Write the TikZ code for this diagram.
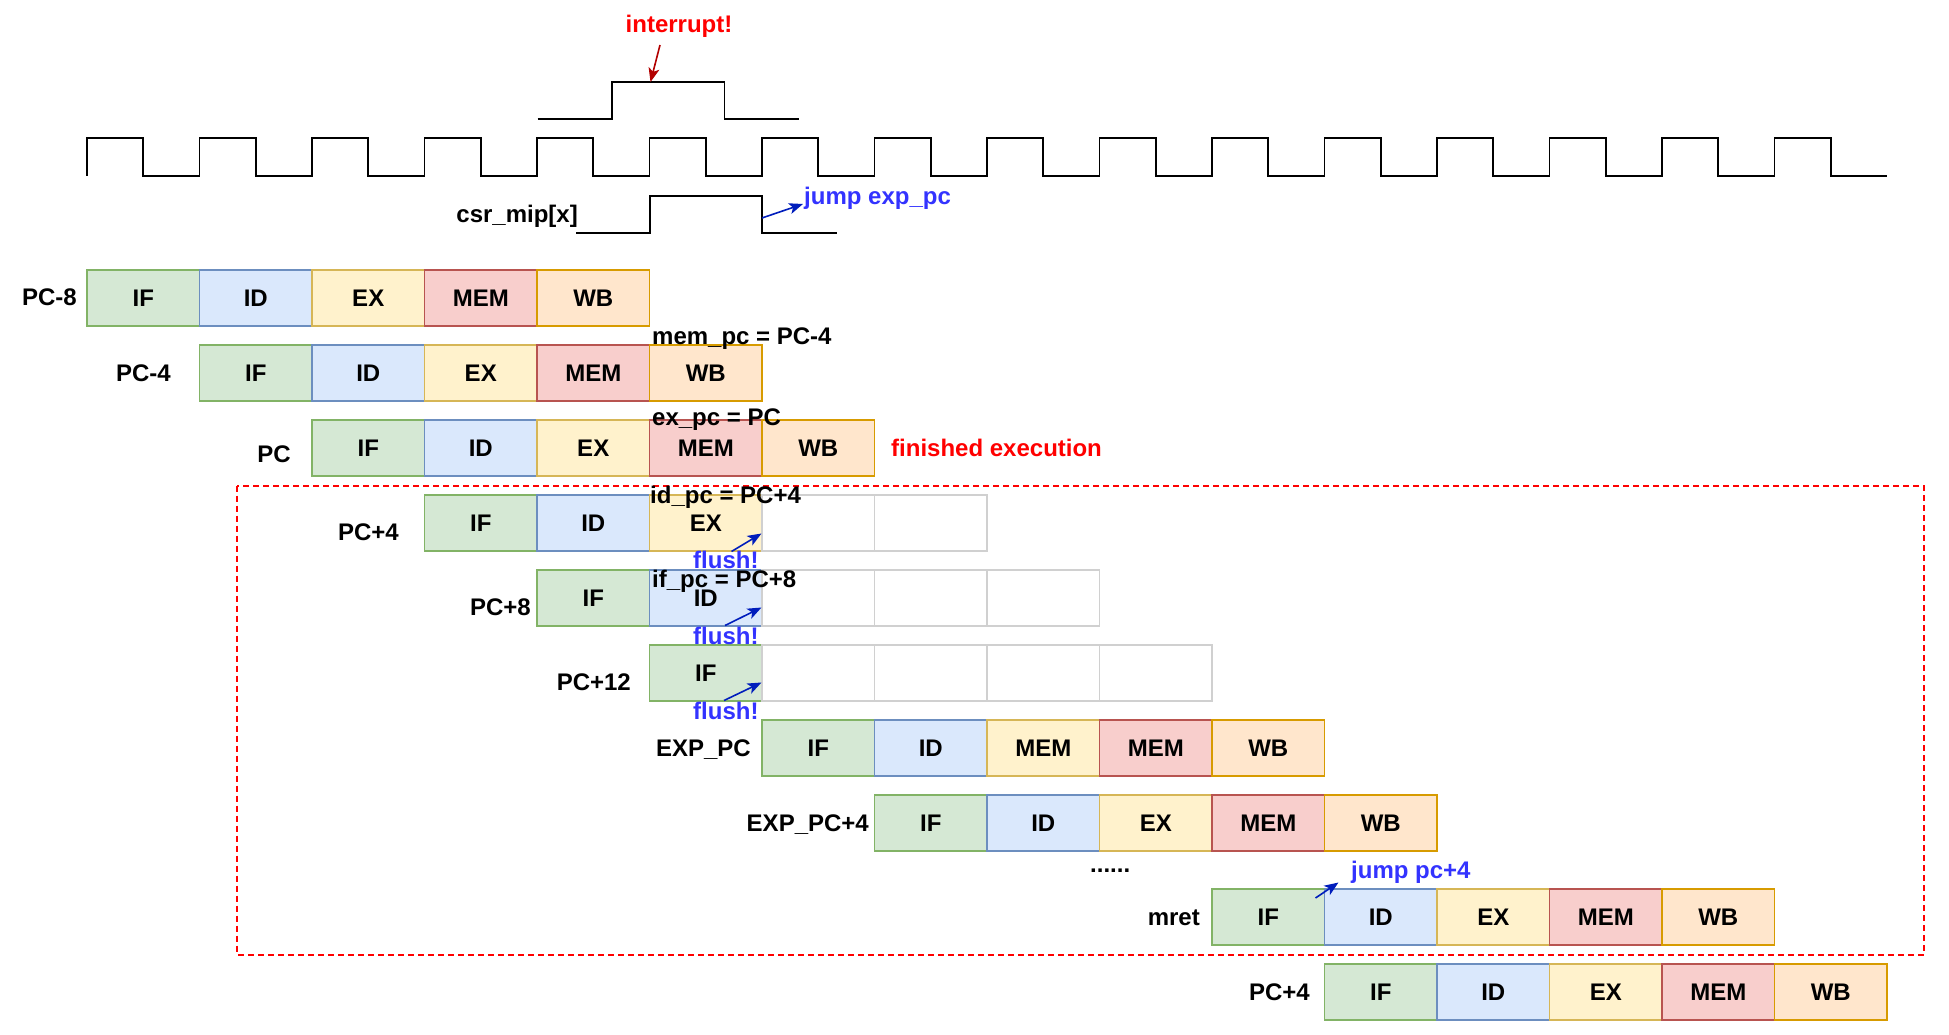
\documentclass[tikz,border=0pt]{standalone}
\usepackage{fontspec}
\setmainfont{Liberation Sans}
\usetikzlibrary{arrows.meta}
\definecolor{ifF}{HTML}{D5E8D4}\definecolor{ifD}{HTML}{82B366}
\definecolor{idF}{HTML}{DAE8FC}\definecolor{idD}{HTML}{6C8EBF}
\definecolor{exF}{HTML}{FFF2CC}\definecolor{exD}{HTML}{D6B656}
\definecolor{memF}{HTML}{F8CECC}\definecolor{memD}{HTML}{B85450}
\definecolor{wbF}{HTML}{FFE6CC}\definecolor{wbD}{HTML}{D79B00}
\definecolor{emptyD}{HTML}{D0D0D0}
\definecolor{txtred}{HTML}{FF0000}
\definecolor{arrred}{HTML}{B20000}
\definecolor{txtblue}{HTML}{3333FF}
\definecolor{arrblue}{HTML}{001DBC}
\newcommand\stagerow[4]{%
  \foreach \s/\t [count=\i] in {#4} {
    \node[\s] (#1-\i) at ({87+112.5*(#2+\i-1)+56.25},{#3+28}) {\t};
  }}
\begin{document}
\begin{tikzpicture}[x=1pt,y=-1pt,
  every node/.style={font=\fontsize{24}{28}\selectfont\bfseries, inner sep=0pt},
  stg/.style={draw, line width=1.5pt, minimum width=112.5pt, minimum height=56pt, inner sep=0pt},
  sif/.style={stg, fill=ifF, draw=ifD},
  sid/.style={stg, fill=idF, draw=idD},
  sex/.style={stg, fill=exF, draw=exD},
  smem/.style={stg, fill=memF, draw=memD},
  swb/.style={stg, fill=wbF, draw=wbD},
  sempty/.style={stg, fill=white, draw=emptyD},
  rowlabel/.style={anchor=base east},
  note/.style={anchor=base west},
  wave/.style={line width=1.6pt, line join=miter},
  redarrow/.style={draw=arrred, line width=1.6pt, -{Stealth[length=14pt,width=11pt,inset=3.5pt]}},
  bluearrow/.style={draw=arrblue, line width=1.6pt, -{Stealth[length=14pt,width=11pt,inset=3.5pt]}},
  bluetext/.style={text=txtblue, anchor=base west},
]
\path[use as bounding box] (0,0) rectangle (1949,1035);

% clock
\draw[wave] (87,176) \foreach \i in {0,...,15} {
  -- ({87+112.5*\i},138) -- ({87+112.5*\i+56.25},138)
  -- ({87+112.5*\i+56.25},176) -- ({87+112.5*(\i+1)},176) };
% interrupt signal
\draw[wave] (537.5,119) -- (612,119) -- (612,82) -- (724.5,82) -- (724.5,119) -- (799,119);
% csr_mip signal
\draw[wave] (576,233) -- (650,233) -- (650,196) -- (762,196) -- (762,233) -- (837,233);

\node[text=txtred, anchor=base] (intr) at (679,33) {interrupt!};
\node[anchor=base east] (csr) at (578,223) {csr\_mip[x]};
\node[bluetext] (jexp) at (804,205) {jump exp\_pc};

% red dashed region
\draw[txtred, line width=2pt, dash pattern=on 6pt off 4pt] (237,485.5) rectangle (1924,954.5);

% pipeline rows
\stagerow{r1}{0}{270}{sif/IF,sid/ID,sex/EX,smem/MEM,swb/WB}
\stagerow{r2}{1}{345}{sif/IF,sid/ID,sex/EX,smem/MEM,swb/WB}
\stagerow{r3}{2}{420}{sif/IF,sid/ID,sex/EX,smem/MEM,swb/WB}
\stagerow{r4}{3}{495}{sif/IF,sid/ID,sex/EX,sempty/,sempty/}
\stagerow{r5}{4}{570}{sif/IF,sid/ID,sempty/,sempty/,sempty/}
\stagerow{r6}{5}{645}{sif/IF,sempty/,sempty/,sempty/,sempty/}
\stagerow{r7}{6}{720}{sif/IF,sid/ID,sex/MEM,smem/MEM,swb/WB}
\stagerow{r8}{7}{795}{sif/IF,sid/ID,sex/EX,smem/MEM,swb/WB}
\stagerow{r9}{10}{889}{sif/IF,sid/ID,sex/EX,smem/MEM,swb/WB}
\stagerow{r10}{11}{964}{sif/IF,sid/ID,sex/EX,smem/MEM,swb/WB}

% row labels
\node[rowlabel] (l1) at (77,305) {PC-8};
\node[rowlabel] (l2) at (171,381) {PC-4};
\node[rowlabel] (l3) at (291,462) {PC};
\node[rowlabel] (l4) at (399,540) {PC+4};
\node[rowlabel] (l5) at (531,615) {PC+8};
\node[rowlabel] (l6) at (631,690) {PC+12};
\node[rowlabel] (l7) at (751,756) {EXP\_PC};
\node[rowlabel] (l8) at (869,831) {EXP\_PC+4};
\node[rowlabel] (l9) at (1200,925) {mret};
\node[rowlabel] (l10) at (1310,1000) {PC+4};

% notes
\node[note] (n1) at (652,344) {mem\_pc = PC-4};
\node[note] (n2) at (652,425) {ex\_pc = PC};
\node[note] (n3) at (650,503) {id\_pc = PC+4};
\node[note] (n4) at (652,587) {if\_pc = PC+8};
\node[note, text=txtred] (fin) at (891,456) {finished execution};
\node[bluetext] (f1) at (693,568) {flush!};
\node[bluetext] (f2) at (693,644) {flush!};
\node[bluetext] (f3) at (693,719) {flush!};
\node[anchor=base west] (dots) at (1090,872) {......};
\node[bluetext] (jpc4) at (1351,878) {jump pc+4};

% arrows
\coordinate (intrA) at (660,45);   \coordinate (intrB) at (650.5,82);
\coordinate (jA) at (762,218);     \coordinate (jB) at (803,204);
\coordinate (fa1) at (731.5,551.5); \coordinate (fb1) at (761.5,533.5);
\coordinate (fa2) at (725,625.5);  \coordinate (fb2) at (761.5,607.5);
\coordinate (fa3) at (724,700.5);  \coordinate (fb3) at (761.5,682.5);
\coordinate (pa) at (1315.5,898);  \coordinate (pb) at (1338.5,882.5);
\draw[redarrow] (intrA) -- (intrB);
\draw[bluearrow] (jA) -- (jB);
\draw[bluearrow] (fa1) -- (fb1);
\draw[bluearrow] (fa2) -- (fb2);
\draw[bluearrow] (fa3) -- (fb3);
\draw[bluearrow] (pa) -- (pb);
\end{tikzpicture}
\end{document}
